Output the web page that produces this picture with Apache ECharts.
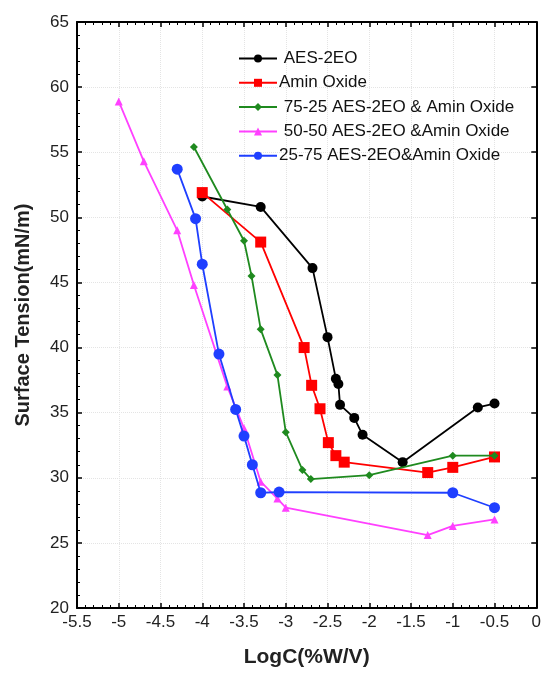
<!DOCTYPE html>
<html>
<head>
<meta charset="utf-8">
<script src="https://cdn.jsdelivr.net/npm/echarts@6/dist/echarts.min.js"></script>
<style>
  html, body { margin: 0; padding: 0; background: #fff; }
  #chart { width: 544px; height: 673px; }
</style>
</head>
<body>
<div id="chart"></div>
<script>
// Surface tension vs. log concentration for AES-2EO, amine oxide and their blends
const seriesNames = [' AES-2EO', 'Amin Oxide', ' 75-25 AES-2EO & Amin Oxide', ' 50-50 AES-2EO &Amin Oxide', '25-75 AES-2EO&Amin Oxide'];

const aesX = [-4.0, -3.3, -2.68, -2.5, -2.4, -2.37, -2.35, -2.18, -2.08, -1.6, -0.7, -0.5];
const aesY = [51.6, 50.8, 46.1, 40.8, 37.6, 37.2, 35.6, 34.6, 33.3, 31.2, 35.4, 35.7];

const amineX = [-4.0, -3.3, -2.78, -2.69, -2.59, -2.49, -2.4, -2.3, -1.3, -1.0, -0.5];
const amineY = [51.9, 48.1, 40.0, 37.1, 35.3, 32.7, 31.7, 31.2, 30.4, 30.8, 31.6];

const mix7525X = [-4.1, -3.7, -3.5, -3.41, -3.3, -3.1, -3.0, -2.8, -2.7, -2.0, -1.0, -0.5];
const mix7525Y = [55.4, 50.6, 48.2, 45.5, 41.4, 37.9, 33.5, 30.6, 29.9, 30.2, 31.7, 31.7];

const mix5050X = [-5.0, -4.7, -4.3, -4.1, -3.7, -3.5, -3.3, -3.1, -3.0, -1.3, -1.0, -0.5];
const mix5050Y = [58.9, 54.3, 49.0, 44.8, 37.0, 33.8, 29.7, 28.4, 27.7, 25.6, 26.3, 26.8];

const mix2575X = [-4.3, -4.08, -4.0, -3.8, -3.6, -3.5, -3.4, -3.3, -3.08, -1.0, -0.5];
const mix2575Y = [53.7, 49.9, 46.4, 39.5, 35.25, 33.2, 31.0, 28.85, 28.9, 28.85, 27.7];

const xTicks = { min: -5.5, max: 0, step: 0.5 };
const yTicks = { min: 20, max: 65, step: 5 };

const pairs = (xs, ys) => xs.map((x, i) => [x, ys[i]]);

const FONT = "'Liberation Sans', Arial, sans-serif";

const styles = [
  { color: '#000000', symbol: 'circle', size: 10 },
  { color: '#ff0000', symbol: 'rect', size: 11 },
  { color: '#1f8a1f', symbol: 'diamond', size: 8 },
  { color: '#ff40ff', symbol: 'triangle', size: 8 },
  { color: '#1f3fff', symbol: 'circle', size: 11 }
];
const dataSets = [
  pairs(aesX, aesY),
  pairs(amineX, amineY),
  pairs(mix7525X, mix7525Y),
  pairs(mix5050X, mix5050Y),
  pairs(mix2575X, mix2575Y)
];

const chart = echarts.init(document.getElementById('chart'), null, { renderer: 'canvas' });

const frameAxisX = (position, showLabels) => ({
  type: 'value',
  position: position,
  min: xTicks.min,
  max: xTicks.max,
  interval: xTicks.step,
  axisLine: { show: true, onZero: false, lineStyle: { color: '#000', width: 2 } },
  axisTick: { show: true, inside: true, length: 5, lineStyle: { color: '#000', width: 1.5 } },
  minorTick: { show: true, splitNumber: 5, length: 3, lineStyle: { color: '#000', width: 1 } },
  axisLabel: {
    show: showLabels, color: '#222', fontSize: 17, fontFamily: FONT, margin: 6,
    formatter: v => String(Math.round(v * 10) / 10)
  },
  splitLine: { show: showLabels, lineStyle: { color: '#e4e4e4', type: 'dotted', width: 1 } },
  minorSplitLine: { show: false }
});

const frameAxisY = (position, showLabels) => ({
  type: 'value',
  position: position,
  min: yTicks.min,
  max: yTicks.max,
  interval: yTicks.step,
  axisLine: { show: true, onZero: false, lineStyle: { color: '#000', width: 2 } },
  axisTick: { show: true, inside: true, length: 5, lineStyle: { color: '#000', width: 1.5 } },
  minorTick: { show: showLabels, splitNumber: 5, length: 3, lineStyle: { color: '#000', width: 1 } },
  axisLabel: { show: showLabels, color: '#222', fontSize: 17, fontFamily: FONT, margin: 8 },
  splitLine: { show: showLabels, lineStyle: { color: '#e4e4e4', type: 'dotted', width: 1 } }
});

const xBottom = Object.assign(frameAxisX('bottom', true), {
  name: 'LogC(%W/V)',
  nameLocation: 'middle',
  nameGap: 39,
  nameTextStyle: { fontSize: 21, fontWeight: 'bold', color: '#222', fontFamily: FONT }
});
const yLeft = Object.assign(frameAxisY('left', true), {
  name: 'Surface Tension(mN/m)',
  nameLocation: 'middle',
  nameGap: 44,
  nameTextStyle: { fontSize: 20, fontWeight: 'bold', color: '#222', fontFamily: FONT }
});

chart.setOption({
  backgroundColor: '#ffffff',
  animation: false,
  grid: { left: 77, right: 5, top: 22, bottom: 60, containLabel: false },
  legend: {
    orient: 'vertical',
    left: 238,
    top: 50,
    padding: 0,
    itemGap: 7.3,
    itemWidth: 38,
    itemHeight: 10,
    textStyle: { fontSize: 17, color: '#111', fontFamily: FONT, padding: [0, 0, 0, -3] },
    data: seriesNames
  },
  xAxis: [xBottom, frameAxisX('top', false)],
  yAxis: [yLeft, frameAxisY('right', false)],
  series: seriesNames.map((name, i) => ({
    name: name,
    type: 'line',
    xAxisIndex: 0,
    yAxisIndex: 0,
    data: dataSets[i],
    symbol: styles[i].symbol,
    symbolSize: styles[i].size,
    showSymbol: true,
    color: styles[i].color,
    lineStyle: { color: styles[i].color, width: 1.8 },
    itemStyle: { color: styles[i].color },
    z: 2 + i
  }))
});
</script>
</body>
</html>
